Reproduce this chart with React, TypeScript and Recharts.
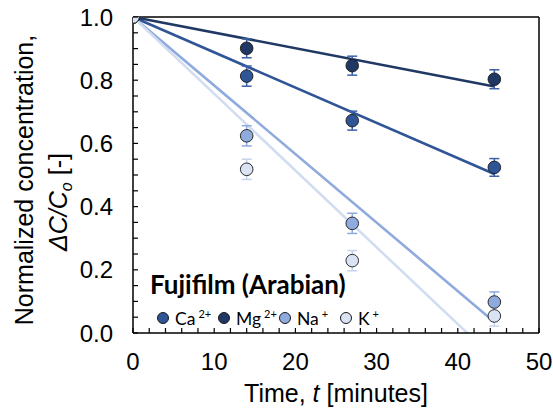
import React from "react";
import {
  ComposedChart,
  Scatter,
  Line,
  XAxis,
  YAxis,
  ErrorBar,
  ReferenceLine,
} from "recharts";

// ---- data ----
const times = [0, 14, 27, 44.5];
const caValues = [1.0, 0.813, 0.672, 0.524];
const caErrors = [0, 0.032, 0.03, 0.028];
const mgValues = [1.0, 0.901, 0.846, 0.803];
const mgErrors = [0, 0.03, 0.03, 0.03];
const naValues = [1.0, 0.624, 0.347, 0.098];
const naErrors = [0, 0.032, 0.032, 0.032];
const kValues = [1.0, 0.518, 0.229, 0.054];
const kErrors = [0, 0.032, 0.032, 0.032];

// linear trend lines (start / end)
const trendTimes = [0, 44.5];
const caTrend = [1.0, 0.503];
const mgTrend = [1.0, 0.78];
const naTrend = [1.0, 0.035];
const kTrend = [1.0, -0.081];

const xTicks = [0, 2, 4, 6, 8, 10, 12, 14, 16, 18, 20, 22, 24, 26, 28, 30, 32, 34, 36, 38, 40, 42, 44, 46, 48, 50];
const yTicks = [0, 0.05, 0.1, 0.15, 0.2, 0.25, 0.3, 0.35, 0.4, 0.45, 0.5, 0.55, 0.6, 0.65, 0.7, 0.75, 0.8, 0.85, 0.9, 0.95, 1.0];

const seriesNames = ["Ca", "Mg", "Na", "K"];
const seriesCharges = ["2+", "2+", "+", "+"];
const legendTitle = "Fujifilm (Arabian)";

const COLORS = {
  Ca: "#2f5597",
  Mg: "#203864",
  Na: "#8faadc",
  K: "#dae3f3",
};
const ERR_COLORS = {
  Ca: "#3d62a8",
  Mg: "#3d62a8",
  Na: "#8faadc",
  K: "#c5d3ee",
};
const LINE_COLORS = {
  Ca: "#2f5597",
  Mg: "#203864",
  Na: "#8faadc",
  K: "#d3ddf1",
};

const makePoints = (vals: number[], errs: number[]) =>
  times.map((t, i) => ({ t, v: vals[i], err: errs[i] }));
const makeTrend = (vals: number[]) =>
  trendTimes.map((t, i) => ({ t, v: vals[i] }));

const series = [
  { name: "Ca", pts: makePoints(caValues, caErrors), trend: makeTrend(caTrend) },
  { name: "Mg", pts: makePoints(mgValues, mgErrors), trend: makeTrend(mgTrend) },
  { name: "Na", pts: makePoints(naValues, naErrors), trend: makeTrend(naTrend) },
  { name: "K", pts: makePoints(kValues, kErrors), trend: makeTrend(kTrend) },
];

const FONT = "'Liberation Sans', Arial, Helvetica, sans-serif";
const LEG_FONT = "Lato, 'Open Sans', sans-serif";

const YTick = (props: any) => {
  const { x, y, payload } = props;
  const v = payload.value;
  const major = Math.abs(v * 5 - Math.round(v * 5)) < 1e-6;
  return (
    <g>
      <line x1={x} x2={x + 5} y1={y} y2={y} stroke="#000" strokeWidth={1.2} />
      {major && (
        <text x={x - 20} y={y} dy={8.5} textAnchor="end" fontSize={24} fontFamily={FONT} fill="#000">
          {v.toFixed(1)}
        </text>
      )}
    </g>
  );
};

const XTick = (props: any) => {
  const { x, y, payload } = props;
  const v = payload.value;
  const major = v % 10 === 0;
  return (
    <g>
      <line x1={x} x2={x} y1={y} y2={y - 5} stroke="#000" strokeWidth={1.2} />
      {major && (
        <text x={x} y={y + 37} textAnchor="middle" fontSize={24} fontFamily={FONT} fill="#000">
          {v}
        </text>
      )}
    </g>
  );
};

const YLabel = (props: any) => {
  const vb = props.viewBox || {};
  const cy = vb.y + vb.height / 2;
  return (
    <g fontFamily={FONT} fontSize={25} fill="#000">
      <text transform={`translate(33, ${cy + 5}) rotate(-90)`} textAnchor="middle">
        Normalized concentration,
      </text>
      <text transform={`translate(67, ${cy + 27}) rotate(-90)`} textAnchor="middle">
        <tspan fontStyle="italic">ΔC/C</tspan>
        <tspan fontStyle="italic" fontSize={16} dy={5}>o</tspan>
        <tspan dy={-5}> [-]</tspan>
      </text>
    </g>
  );
};

const XLabel = (props: any) => {
  const vb = props.viewBox || {};
  const cx = vb.x + vb.width / 2;
  return (
    <text x={cx} y={vb.y + 69} textAnchor="middle" fontFamily={FONT} fontSize={25} fill="#000">
      Time, <tspan fontStyle="italic">t</tspan> [minutes]
    </text>
  );
};

const makeDot = (fill: string) => (props: any) => {
  const { cx, cy } = props;
  if (cx == null || cy == null) return <g />;
  return <circle cx={cx} cy={cy} r={6.3} fill={fill} stroke="#1a1a1a" strokeWidth={0.9} />;
};
const noDot = () => <g />;

export default function App() {
  return (
    <div style={{ position: "absolute", left: 0, top: 0, width: 553, height: 412, background: "#fff" }}>
      <ComposedChart
        width={553}
        height={412}
        margin={{ top: 17, right: 14, bottom: 0, left: 0 }}
      >
        <XAxis
          type="number"
          dataKey="t"
          domain={[0, 50]}
          ticks={xTicks}
          interval={0}
          tickSize={0}
          tickMargin={0}
          tick={<XTick />}
          height={79}
          stroke="#000"
          strokeWidth={1.5}
          label={<XLabel />}
          allowDataOverflow
        />
        <YAxis
          type="number"
          dataKey="v"
          domain={[0, 1]}
          ticks={yTicks}
          interval={0}
          tickSize={0}
          tickMargin={0}
          tick={<YTick />}
          width={133}
          stroke="#000"
          strokeWidth={1.5}
          label={<YLabel />}
          allowDataOverflow
        />
        <ReferenceLine y={1} stroke="#000" strokeWidth={1.5} ifOverflow="visible" />
        <ReferenceLine x={50} stroke="#000" strokeWidth={1.5} ifOverflow="visible" />
        {series.map((s) => (
          <Line
            key={"trend-" + s.name}
            data={s.trend}
            dataKey="v"
            type="linear"
            stroke={(LINE_COLORS as any)[s.name]}
            strokeWidth={2.6}
            dot={false}
            activeDot={false}
            isAnimationActive={false}
            legendType="none"
          />
        ))}
        {series.map((s) => (
          <Scatter
            key={"pts-" + s.name}
            data={s.pts}
            dataKey="v"
            shape={makeDot((COLORS as any)[s.name])}
            isAnimationActive={false}
          />
        ))}
        {series.map((s) => (
          <Scatter
            key={"err-" + s.name}
            data={s.pts.filter((p) => p.err > 0)}
            dataKey="v"
            shape={noDot}
            isAnimationActive={false}
          >
            <ErrorBar
              dataKey="err"
              direction="y"
              width={5}
              stroke={(ERR_COLORS as any)[s.name]}
              strokeWidth={1.5}
              isAnimationActive={false}
            />
          </Scatter>
        ))}
      </ComposedChart>
      <div
        style={{
          position: "absolute",
          left: 150,
          top: 271,
          fontFamily: LEG_FONT,
          color: "#000",
          lineHeight: 1,
          pointerEvents: "none",
        }}
      >
        <div style={{ fontWeight: 700, fontSize: 26, whiteSpace: "nowrap" }}>{legendTitle}</div>
      </div>
      <div
        style={{
          position: "absolute",
          left: 157,
          top: 308,
          height: 20,
          fontFamily: LEG_FONT,
          color: "#000",
          lineHeight: 1,
          pointerEvents: "none",
          display: "flex",
          alignItems: "center",
          fontSize: 17.5,
          whiteSpace: "nowrap",
        }}
      >
        {seriesNames.map((n, i) => (
          <div key={n} style={{ display: "flex", alignItems: "center", width: 61 }}>
            <span
              style={{
                display: "inline-block",
                width: 10,
                height: 10,
                borderRadius: "50%",
                background: (COLORS as any)[n],
                border: "0.8px solid #1a1a1a",
                marginRight: 6,
                flexShrink: 0,
              }}
            />
            <span>
              {n}
              <sup style={{ fontSize: 11, marginLeft: 3, verticalAlign: "7px" }}>{seriesCharges[i]}</sup>
            </span>
          </div>
        ))}
      </div>
    </div>
  );
}
